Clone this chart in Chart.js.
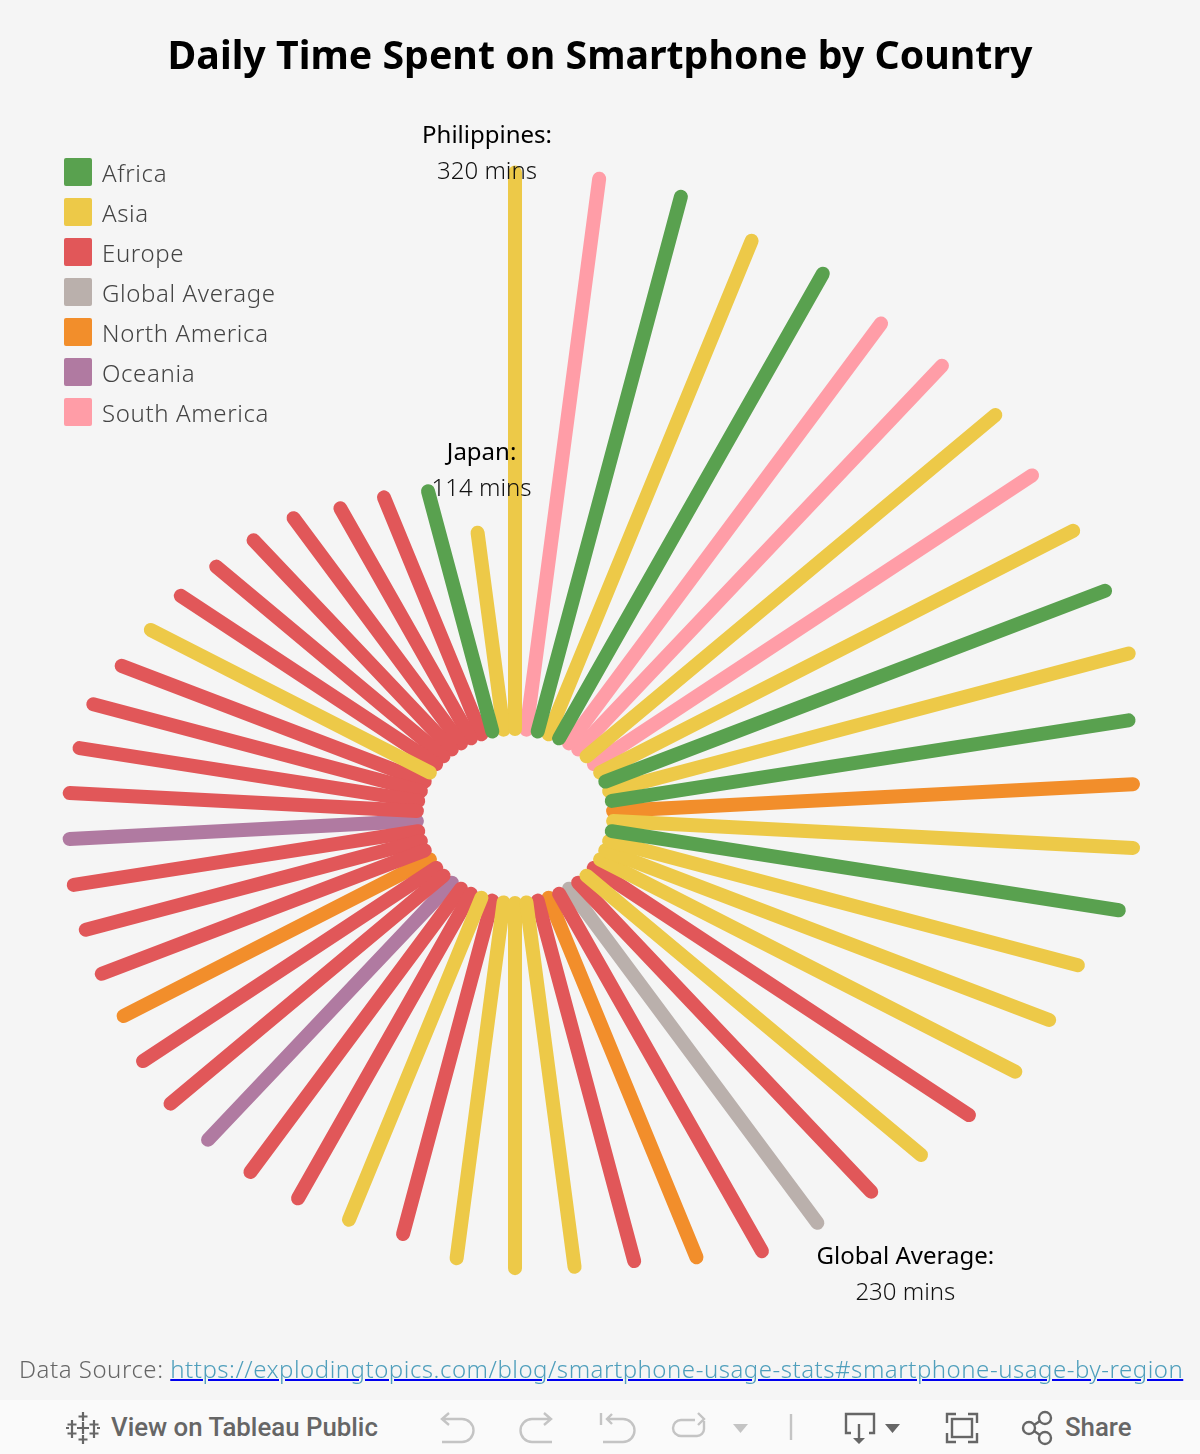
<!DOCTYPE html>
<html>
<head>
<meta charset="utf-8">
<title>Daily Time Spent on Smartphone by Country</title>
<script src="https://cdn.jsdelivr.net/npm/chart.js@4"></script>
<style>
html,body{margin:0;padding:0;background:#f5f5f5;}
body{width:1200px;height:1454px;position:relative;overflow:hidden;}
#chart{position:absolute;left:0;top:0;}
#source{position:absolute;left:19px;top:1352px;white-space:nowrap;font:300 24px "Noto Sans",sans-serif;color:#666;letter-spacing:.52px;}
#source a{color:#4f9fbc;text-decoration:underline;text-decoration-color:#0000ee;text-decoration-thickness:2px;}
#bar{position:absolute;left:0;top:1400px;width:1200px;height:54px;background:#fafafa;}
#bar span{position:absolute;top:12px;font:500 25.8px Roboto,sans-serif;color:#666;white-space:nowrap;}
#bar svg{position:absolute;left:0;top:0;}
</style>
</head>
<body>
<canvas id="chart" width="1200" height="1454"></canvas>
<div id="source">Data Source: <a href="https://explodingtopics.com/blog/smartphone-usage-stats#smartphone-usage-by-region">https://explodingtopics.com/blog/smartphone-usage-stats#smartphone-usage-by-region</a></div>
<div id="bar">
  <svg width="1200" height="54" fill="none" stroke-width="2.4">
    <g stroke="#666" stroke-width="2.2">
      <path d="M83 12v9M78.500 16.500h9M83 35v9M78.500 39.500h9M72 20v9M67.500 24.500h9M94 20v9M89.500 24.500h9M72 29v9M67.500 33.500h9M94 29v9M89.500 33.500h9M83 22v12M77 28h12M69 28h-3M100 28h-3"/>
    </g>
    <g stroke="#c4c4c4">
      <path d="M444 19h18a9.500 9.500 0 0 1 0 23h-20M449 13l-7 6 7 6"/>
      <path d="M549 19h-17a9.500 9.500 0 0 0 0 23h20M544 13l7 6-7 6"/>
      <path d="M601 13v12M608 19h15a9.500 9.500 0 0 1 0 23h-20M612 14l-5 5 5 5"/>
      <path d="M695 20h-14a8 8 0 0 0 0 16h16a7 7 0 0 0 7-7v-8M698 13l6 6-6 6"/>
      <path d="M791 14v26"/>
    </g>
    <path d="M733 24h15l-7.500 9z" fill="#c4c4c4"/>
    <g stroke="#666">
      <path d="M851 33h-5v-19h28v19h-5M859 24v15"/>
      <path d="M947 23v-9h9M968 14h9v9M977 33v9h-9M956 42h-9v-9"/>
      <rect x="952" y="19" width="20" height="18"/>
      <circle cx="1029" cy="28" r="6"/><circle cx="1045" cy="18" r="6"/><circle cx="1045" cy="38" r="6"/>
      <path d="M1034 25l6-4M1034 31l6 4"/>
    </g>
    <path d="M853 38h12l-6 6zM885 24h15l-7.500 9z" fill="#666"/>
  </svg>
  <span style="left:111px">View on Tableau Public</span>
  <span style="left:1065px">Share</span>
</div>
<script>
const REGIONS = ["Africa","Asia","Europe","Global Average","North America","Oceania","South America"];
const COLORS = ["#59a14f","#edc948","#e15759","#bab0ac","#f28e2b","#b07aa1","#ff9da7"];

// minutes per day, clockwise from 12 o'clock
const MINUTES = [320,319,316,302,299,289,288,286,278,278,277,276,267,265,265,262,249,246,244,238,234,232,230,230,220,213,211,210,206,197,197,196,195,193,191,186,180,179,178,178,177,177,175,174,168,164,162,159,157,155,148,145,142,114];
const SPOKE_REGION = ["Asia","South America","Africa","Asia","Africa","South America","South America","Asia","South America","Asia","Africa","Asia","Africa","North America","Asia","Africa","Asia","Asia","Asia","Europe","Asia","Europe","Global Average","Europe","North America","Europe","Asia","Asia","Asia","Europe","Asia","Europe","Europe","Oceania","Europe","Europe","North America","Europe","Europe","Europe","Oceania","Europe","Europe","Europe","Europe","Asia","Europe","Europe","Europe","Europe","Europe","Europe","Africa","Asia"];

// spoke index + text of the three callouts
const NOTE_SPOKES = [0,53,22];
const NOTE_NAMES = ["Philippines:","Japan:","Global Average:"];
const NOTE_VALUES = ["320 mins","114 mins","230 mins"];

const HOLE = 50; // radius of the empty middle, in minutes

function polar(v,i){
  const a = i/MINUTES.length*2*Math.PI;
  return {x:(v+HOLE)*Math.sin(a), y:(v+HOLE)*Math.cos(a)};
}

const notes = {
  id:"notes",
  afterDatasetsDraw(chart){
    const {ctx,scales} = chart;
    const dx = [-28,4,88], nameY = [-36,-80,34], valueY = [0,-44,70];
    ctx.save();
    ctx.textAlign = "center";
    ctx.textBaseline = "middle";
    NOTE_SPOKES.forEach((s,k)=>{
      const p = polar(MINUTES[s],s);
      const px = scales.x.getPixelForValue(p.x)+dx[k];
      const py = scales.y.getPixelForValue(p.y);
      ctx.font = '400 24px "Noto Sans"';
      ctx.fillStyle = "#000";
      ctx.fillText(NOTE_NAMES[k],px,py+nameY[k]);
      ctx.font = '300 24px "Noto Sans"';
      ctx.fillStyle = "#111";
      ctx.fillText(NOTE_VALUES[k],px,py+valueY[k]);
    });
    ctx.restore();
  }
};

// Chart.js has no letter spacing or text offset option for the legend, and it
// leaves a chartArea legend at the very top of the canvas, so do those here
const placedLegend = {
  id:"placedLegend",
  afterLayout(chart){
    const l = chart.legend;
    if(l._placed) return;
    l._placed = true;
    const draw = l.draw;
    l.draw = function(){
      const ctx = chart.ctx;
      const fillText = ctx.fillText;
      ctx.save();
      ctx.translate(0,chart.chartArea.top);
      ctx.letterSpacing = "0.63px";
      ctx.fillText = (t,x,y)=>fillText.call(ctx,t,x-2,y+3);
      draw.call(l);
      delete ctx.fillText;
      ctx.restore();
    };
  }
};

new Chart(document.getElementById("chart"),{
  type:"scatter",
  data:{
    datasets:MINUTES.map((v,i)=>{
      const r = REGIONS.indexOf(SPOKE_REGION[i]);
      return {
        label:SPOKE_REGION[i],
        data:[polar(0,i),polar(v,i)],
        showLine:true,
        borderColor:COLORS[r],
        backgroundColor:COLORS[r],
        borderWidth:14,
        borderCapStyle:"round",
        pointRadius:0,
        clip:false,
        order:r
      };
    })
  },
  options:{
    responsive:false,
    animation:false,
    layout:{padding:{left:52,right:52,bottom:174}},
    scales:{
      x:{display:false,min:-235.6,max:322.1},
      y:{display:false,min:-266.8,max:385.3}
    },
    plugins:{
      tooltip:{enabled:false},
      title:{
        display:true,
        text:"Daily Time Spent on Smartphone by Country",
        color:"#000",
        font:{family:'"Noto Sans"',size:39.3,weight:"bold",lineHeight:1.2},
        padding:{top:34,bottom:64.84}
      },
      legend:{
        position:"chartArea",
        align:"start",
        onClick:null,
        labels:{
          boxWidth:28,
          boxHeight:28,
          padding:12,
          color:"#444",
          useBorderRadius:true,
          borderRadius:2,
          font:{family:'"Noto Sans"',size:24,weight:"300",lineHeight:1},
          generateLabels:()=>REGIONS.map((name,i)=>({
            text:name,
            fillStyle:COLORS[i],
            strokeStyle:COLORS[i],
            fontColor:"#444",
            lineWidth:0,
            borderRadius:2,
            hidden:false,
            datasetIndex:i
          }))
        }
      }
    }
  },
  plugins:[notes,placedLegend]
});
</script>
</body>
</html>
